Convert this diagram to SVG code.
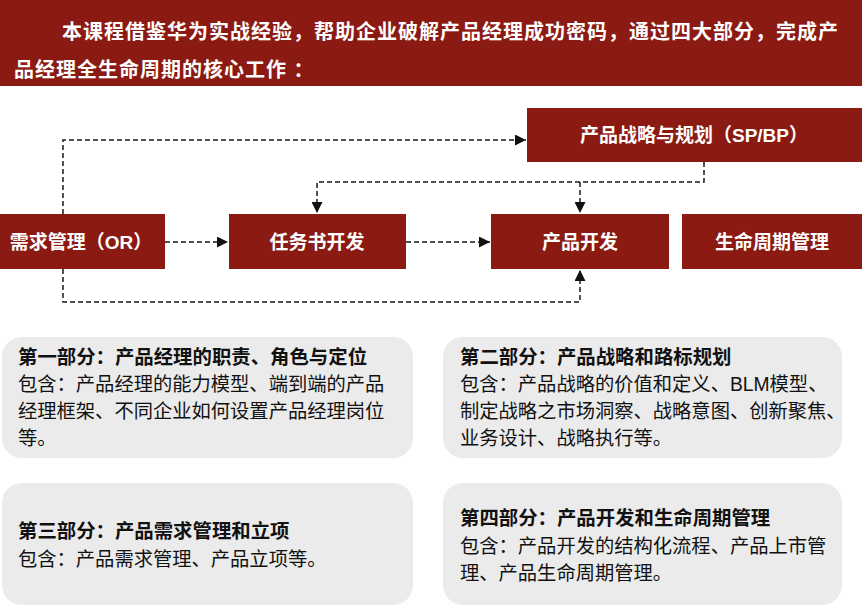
<svg xmlns="http://www.w3.org/2000/svg" width="863" height="614" viewBox="0 0 863 614">
<defs>
<style>
.red{fill:#8B1A12;}
.hd{font-family:"Liberation Sans","Noto Sans CJK SC",sans-serif;font-weight:bold;font-size:20px;fill:#fff;letter-spacing:1px;}
.bx{font-family:"Liberation Sans","Noto Sans CJK SC",sans-serif;font-weight:bold;font-size:19px;fill:#fff;text-anchor:middle;}
.panel{fill:#EBEBEB;}
.pt{font-family:"Liberation Sans","Noto Sans CJK SC",sans-serif;font-weight:bold;font-size:19.4px;fill:#111;}
.pb{font-family:"Liberation Sans","Noto Sans CJK SC",sans-serif;font-size:19.3px;fill:#111;}
.cn{fill:none;stroke:#1a1a1a;stroke-width:1.5;stroke-dasharray:5 3;}
</style>
<marker id="ah" viewBox="0 0 10 10" refX="10" refY="5" markerWidth="11" markerHeight="11" markerUnits="userSpaceOnUse" orient="auto">
<path d="M0,0 L10,5 L0,10 z" fill="#111"/>
</marker>
</defs>
<rect width="863" height="614" fill="#fff"/>
<g id="header">
<rect class="red" x="0" y="0" width="862" height="86"/>
<text class="hd" x="62" y="39">本课程借鉴华为实战经验，帮助企业破解产品经理成功密码，通过四大部分，完成产</text>
<text class="hd" x="14" y="77">品经理全生命周期的核心工作  ：</text>
</g>
<g id="connectors">
<path class="cn" d="M63,214 V140 H526" marker-end="url(#ah)"/>
<path class="cn" d="M704,162 V182 H317 V213" marker-end="url(#ah)"/>
<path class="cn" d="M580,182 V213" marker-end="url(#ah)"/>
<path class="cn" d="M165,242 H228" marker-end="url(#ah)"/>
<path class="cn" d="M406,242 H490" marker-end="url(#ah)"/>
<path class="cn" d="M63,269 V302 H580 V270" marker-end="url(#ah)"/>
</g>
<g id="n-strategy">
<rect class="red" x="527" y="108" width="335" height="54"/>
<text class="bx" x="694" y="142">产品战略与规划（SP/BP）</text>
</g>
<g id="n-or">
<rect class="red" x="0" y="214" width="165" height="55"/>
<text class="bx" x="81" y="249">需求管理（OR）</text>
</g>
<g id="n-task">
<rect class="red" x="229" y="214" width="177" height="55"/>
<text class="bx" x="317" y="249">任务书开发</text>
</g>
<g id="n-dev">
<rect class="red" x="491" y="214" width="178" height="55"/>
<text class="bx" x="580" y="249">产品开发</text>
</g>
<g id="n-life">
<rect class="red" x="682" y="214" width="180" height="55"/>
<text class="bx" x="772" y="249">生命周期管理</text>
</g>
<g id="p1">
<rect class="panel" x="2" y="337" width="411" height="121" rx="20"/>
<text class="pt" x="18" y="364">第一部分：产品经理的职责、角色与定位</text>
<text class="pb" x="18" y="391">包含：产品经理的能力模型、端到端的产品</text>
<text class="pb" x="18" y="418">经理框架、不同企业如何设置产品经理岗位</text>
<text class="pb" x="18" y="445">等。</text>
</g>
<g id="p2">
<rect class="panel" x="443" y="337" width="399" height="121" rx="20"/>
<text class="pt" x="460" y="364">第二部分：产品战略和路标规划</text>
<text class="pb" x="460" y="391">包含：产品战略的价值和定义、BLM模型、</text>
<text class="pb" x="460" y="418">制定战略之市场洞察、战略意图、创新聚焦、</text>
<text class="pb" x="460" y="445">业务设计、战略执行等。</text>
</g>
<g id="p3">
<rect class="panel" x="2" y="483" width="411" height="122" rx="20"/>
<text class="pt" x="18" y="538">第三部分：产品需求管理和立项</text>
<text class="pb" x="18" y="566">包含：产品需求管理、产品立项等。</text>
</g>
<g id="p4">
<rect class="panel" x="443" y="483" width="399" height="122" rx="20"/>
<text class="pt" x="460" y="525">第四部分：产品开发和生命周期管理</text>
<text class="pb" x="460" y="553">包含：产品开发的结构化流程、产品上市管</text>
<text class="pb" x="460" y="580">理、产品生命周期管理。</text>
</g>
</svg>
